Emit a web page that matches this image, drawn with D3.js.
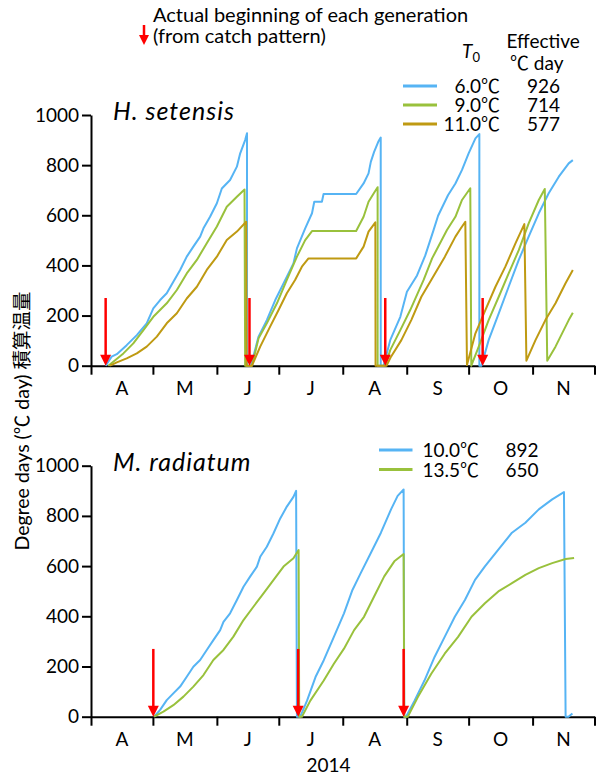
<!DOCTYPE html>
<html><head><meta charset="utf-8">
<script src="https://cdn.jsdelivr.net/npm/d3@7"></script>
<style>
body{margin:0;background:#fff;}
svg{display:block;}
text{font-family:Lato,"Noto Sans CJK JP",sans-serif;fill:#000;}
</style></head><body>
<svg id="chart" width="597" height="776"></svg>
<script>
// ---------- data (x = days since 1 April 2014, y = degree days) ----------
const months = ["A","M","J","J","A","S","O","N"];
const yTicks = [0,200,400,600,800,1000];
const yearLabel = "2014";

const hsT6 = [[7.1,0],[10.0,36],[12.5,46],[17.3,82],[22.2,122],[27.0,169],[30.2,229],[33.5,262],[36.7,289],[39.9,335],[43.2,382],[46.4,435],[49.6,475],[52.9,515],[54.5,548],[57.7,594],[61.0,648],[63.4,707],[67.4,741],[70.7,794],[72.3,847],[74.7,900],[75.6,927],[75.6,0],[77.5,0],[81.2,116],[85.2,182],[89.3,262],[93.3,328],[98.1,408],[99.8,468],[103.8,548],[107.1,608],[108.2,654],[111.9,654],[112.7,685],[128.5,685],[132.1,727],[134.5,767],[135.6,813],[137.2,853],[139.2,893],[140.4,910],[140.4,0],[141.8,0],[145.0,102],[149.9,195],[153.1,295],[158.0,360],[162.0,440],[166.0,541],[168.2,598],[173.0,680],[176.6,727],[179.8,781],[183.0,847],[186.3,907],[188.2,924],[188.2,0],[189.2,0],[192.7,102],[197.6,209],[202.4,315],[207.3,422],[212.1,515],[217.0,608],[221.8,688],[226.7,754],[231.5,807],[233.5,820]];
const hsT9 = [[8.4,0],[10.8,16],[15.7,49],[20.5,89],[25.4,142],[30.2,195],[36.7,249],[41.6,302],[46.4,368],[51.3,422],[56.1,488],[61.0,555],[65.8,634],[70.7,674],[74.4,703],[74.7,0],[78.0,0],[81.2,109],[85.2,169],[90.1,249],[94.9,342],[99.8,435],[103.8,501],[107.1,537],[128.5,537],[132.1,594],[134.5,654],[137.2,690],[138.9,712],[138.9,0],[142.6,0],[145.0,62],[149.9,142],[154.7,222],[161.2,342],[165.3,428],[172.5,541],[176.6,594],[179.8,661],[183.8,708],[184.3,0],[187.9,76],[192.7,182],[197.6,275],[202.4,368],[207.3,461],[212.1,568],[217.0,661],[219.9,705],[221.1,20],[225.1,76],[228.3,129],[231.5,182],[233.5,211]];
const hsT11 = [[9.2,0],[12.5,13],[17.3,29],[22.2,49],[27.0,76],[31.9,116],[36.7,169],[41.6,209],[46.4,268],[51.3,315],[56.1,382],[61.0,435],[65.8,501],[70.7,535],[75.2,574],[75.4,0],[78.0,0],[82.0,76],[86.8,156],[90.9,222],[94.9,289],[98.9,342],[102.2,395],[105.4,428],[128.5,428],[132.1,475],[134.5,535],[137.8,572],[137.9,0],[143.2,0],[145.4,36],[150.4,102],[155.2,182],[160.1,275],[165.8,355],[171.5,435],[176.6,515],[179.0,545],[181.4,574],[182.2,3],[186.3,129],[191.1,222],[196.0,315],[200.8,395],[205.7,488],[210.0,565],[211.0,20],[215.4,102],[220.2,182],[225.1,249],[229.9,328],[233.5,382]];

const mrT10 = [[30.6,0],[33.5,27],[36.7,66],[39.9,93],[43.2,120],[46.4,159],[49.6,199],[52.9,226],[56.1,266],[59.3,305],[62.6,345],[64.2,378],[67.4,412],[70.7,465],[73.9,518],[77.1,558],[80.4,598],[82.0,637],[85.2,677],[88.4,730],[91.7,790],[94.9,837],[98.1,876],[99.4,900],[99.8,0],[101.4,0],[104.7,64],[108.8,158],[112.8,225],[117.7,318],[122.6,412],[126.7,505],[130.7,572],[135.6,652],[140.5,733],[145.4,826],[148.6,880],[151.5,905],[151.8,0],[152.7,0],[156.8,64],[161.6,144],[166.5,238],[171.4,318],[176.3,398],[181.2,465],[186.1,545],[190.9,599],[197.4,666],[204.0,733],[210.5,773],[217.0,826],[223.5,866],[229.2,895],[230.0,0],[231.4,0],[233.3,13]];
const mrT13 = [[30.6,0],[35.1,20],[39.9,46],[44.8,80],[49.6,120],[54.5,166],[59.3,226],[64.2,266],[69.0,319],[73.9,385],[78.7,438],[83.6,491],[88.4,544],[93.3,598],[98.1,631],[100.6,664],[100.9,0],[102.2,0],[106.3,64],[112.8,144],[117.7,211],[122.6,271],[127.5,345],[132.3,398],[137.2,479],[142.1,559],[147.0,619],[151.5,648],[151.8,0],[153.5,0],[158.4,78],[164.9,171],[171.4,251],[177.9,318],[184.4,398],[190.9,452],[197.4,499],[204.0,532],[210.5,565],[217.0,592],[223.5,612],[230.0,628],[234.1,632]];

const hsArrows = [7.1, 76.8, 142.6, 189.8];
const mrArrows = [30.2, 100.4, 151.5];
const arrowTop = 270;

const hsLegendT0 = ["6.0℃","9.0℃","11.0℃"];
const hsLegendDD = ["926","714","577"];
const mrLegendT0 = ["10.0℃","13.5℃"];
const mrLegendDD = ["892","650"];

// ---------- styles ----------
const BLUE = "#56b4f4", GREEN = "#99c13c", GOLD = "#bf9a12", RED = "#ff0000";
const FS = "19px";

const svg = d3.select("#chart");
svg.append("rect").attr("width",597).attr("height",776).attr("fill","#fff");

const start = new Date(2014,3,1), end = new Date(2014,11,1);
const toDate = d => new Date(start.getTime() + d*864e5);
const x = d3.scaleTime().domain([start,end]).range([91,594.5]);
const monthStarts = d3.timeMonth.range(start, d3.timeDay.offset(end,1));
const monthMids = monthStarts.slice(0,-1).map((m,i)=>new Date((m.getTime()+monthStarts[i+1].getTime())/2));

function panel(o){
  const y = d3.scaleLinear().domain([0,1000]).range(o.yr);
  const g = svg.append("g");
  const ya = g.append("g").attr("transform","translate(91,0)")
    .call(d3.axisLeft(y).tickValues(yTicks).tickSize(9).tickSizeOuter(0).tickPadding(3).tickFormat(d3.format("d")));
  const xa = g.append("g").attr("transform",`translate(0,${y(0)})`)
    .call(d3.axisBottom(x).tickValues(monthStarts).tickSize(9).tickSizeOuter(0).tickFormat(()=>""));
  [ya,xa].forEach(a=>{
    a.attr("font-family",null).attr("font-size",null);
    a.selectAll("path,line").attr("stroke","#000").attr("stroke-width",2);
    a.selectAll("text").style("font-size",FS);
  });
  g.selectAll(".mlab").data(monthMids).join("text").attr("class","mlab")
    .attr("x",d=>x(d)).attr("y",y(0)+29).attr("text-anchor","middle")
    .style("font-size",FS).text((d,i)=>months[i]);
  const line = d3.line().x(d=>x(toDate(d[0]))).y(d=>y(d[1]));
  o.series.forEach(s=>{
    g.append("path").attr("d",line(s.data)).attr("fill","none")
      .attr("stroke",s.color).attr("stroke-width",2).attr("stroke-linejoin","round");
  });
  o.arrows.forEach(a=>{
    const xp = x(toDate(a)), y0 = y(0);
    g.append("line").attr("x1",xp).attr("x2",xp).attr("y1",y(arrowTop)).attr("y2",y0-9)
      .attr("stroke",RED).attr("stroke-width",2.5);
    g.append("path").attr("d",`M${xp-5.5},${y0-11}L${xp+5.5},${y0-11}L${xp},${y0}Z`).attr("fill",RED);
  });
  g.append("text").attr("x",113).attr("y",o.titleY).style("font-style","italic")
    .style("font-size","25px").style("letter-spacing","1px").text(o.title);
  o.legT0.forEach((t,i)=>{
    const ly = o.leg.y0 + i*o.leg.dy;
    g.append("line").attr("x1",o.leg.x1).attr("x2",o.leg.x2).attr("y1",ly).attr("y2",ly)
      .attr("stroke",o.series[i].color).attr("stroke-width",3);
    g.append("text").attr("x",o.leg.tx).attr("y",ly+7).attr("text-anchor","end")
      .style("font-size",FS).text(t);
    g.append("text").attr("x",o.leg.dx).attr("y",ly+7).attr("text-anchor","middle")
      .style("font-size",FS).text(o.legDD[i]);
  });
}

panel({yr:[365.7,115], series:[{data:hsT6,color:BLUE},{data:hsT9,color:GREEN},{data:hsT11,color:GOLD}],
  arrows:hsArrows, title:"H. setensis", titleY:119.5,
  legT0:hsLegendT0, legDD:hsLegendDD, leg:{x1:403,x2:437,y0:86,dy:19,tx:500,dx:543.5}});
panel({yr:[716.7,465.7], series:[{data:mrT10,color:BLUE},{data:mrT13,color:GREEN}],
  arrows:mrArrows, title:"M. radiatum", titleY:471,
  legT0:mrLegendT0, legDD:mrLegendDD, leg:{x1:379,x2:412.5,y0:450,dy:19.5,tx:479,dx:522}});

svg.append("line").attr("x1",144).attr("x2",144).attr("y1",25).attr("y2",37).attr("stroke",RED).attr("stroke-width",2.5);
svg.append("path").attr("d","M139,35L149,35L144,45Z").attr("fill",RED);
svg.append("text").attr("x",153).attr("y",22).style("font-size","20px").text("Actual beginning of each generation");
svg.append("text").attr("x",153).attr("y",43).style("font-size","20px").text("(from catch pattern)");

const t0 = svg.append("text").attr("x",462).attr("y",58).style("font-size",FS);
t0.append("tspan").style("font-style","italic").text("T");
t0.append("tspan").attr("dy",4).style("font-size","13px").text("0");
svg.append("text").attr("x",506.5).attr("y",48).style("font-size",FS).text("Effective");
svg.append("text").attr("x",510).attr("y",70).style("font-size",FS).text("℃  day");

svg.append("text").attr("transform","translate(29,421) rotate(-90)").attr("text-anchor","middle")
  .style("font-size","19.5px").text("Degree days (℃ day) 積算温量");

svg.append("text").attr("x",328.5).attr("y",772).attr("text-anchor","middle").style("font-size",FS).text(yearLabel);
</script>
</body></html>
